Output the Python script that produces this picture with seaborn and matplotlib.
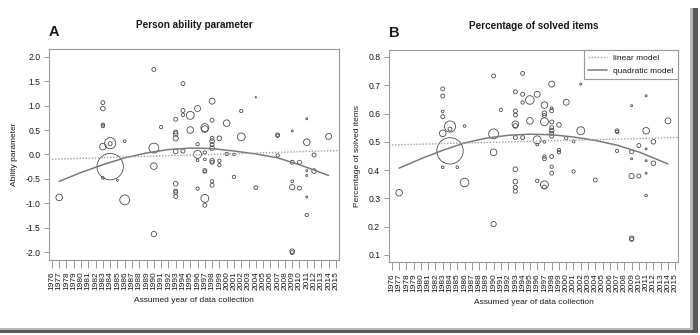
import matplotlib
matplotlib.use("Agg")
import numpy as np
import pandas as pd
import seaborn as sns
import matplotlib.pyplot as plt
from matplotlib.lines import Line2D
from matplotlib.patches import Rectangle

# ---------------- data ----------------
tick_years = list(range(1976, 2016))

# Panel A: person ability parameter (year, value, sample weight)
ability_year = [1977, 1983, 1983, 1983, 1983, 1983, 1983, 1984, 1984, 1984,
                1985, 1986, 1986, 1990, 1990, 1990, 1990, 1991,
                1993, 1993, 1993, 1993, 1993, 1993, 1993, 1993, 1993,
                1994, 1994, 1994, 1994, 1995, 1995,
                1996, 1996, 1996, 1996, 1996,
                1997, 1997, 1997, 1997, 1997, 1997, 1997, 1997,
                1998, 1998, 1998, 1998, 1998, 1998, 1998, 1998, 1998, 1998,
                1999, 1999, 1999, 2000, 2000, 2001, 2001, 2002, 2002,
                2004, 2004, 2007, 2007, 2007,
                2009, 2009, 2009, 2009, 2009, 2009, 2010, 2010,
                2011, 2011, 2011, 2011, 2011, 2011, 2012, 2012, 2014]
ability_value = [-0.88, 1.06, 0.94, 0.61, 0.58, 0.16, -0.48, 0.23, 0.22, -0.25,
                 -0.53, 0.27, -0.93, 1.74, 0.13, -0.24, -1.63, 0.56,
                 0.72, 0.46, 0.42, 0.33, 0.06, -0.60, -0.75, -0.78, -0.86,
                 1.45, 0.90, 0.81, 0.07, 0.80, 0.50,
                 0.94, 0.21, 0.00, -0.12, -0.70,
                 0.55, 0.52, 0.04, -0.10, -0.33, -0.35, -0.90, -1.04,
                 1.09, 0.70, 0.33, 0.27, 0.20, 0.13, -0.13, -0.16, -0.55, -0.63,
                 0.33, -0.13, -0.22, 0.64, 0.01, 0.00, -0.46, 0.89, 0.36,
                 1.17, -0.68, 0.40, 0.38, -0.02,
                 0.48, -0.16, -0.55, -0.67, -1.98, -2.01, -0.16, -0.69,
                 0.73, 0.25, -0.33, -0.43, -0.87, -1.24, -0.01, -0.34, 0.37]
ability_n = [100, 36, 49, 25, 25, 100, 16, 289, 36, 1600,
             9, 16, 225, 36, 225, 100, 64, 25,
             36, 36, 49, 64, 49, 49, 36, 36, 36,
             36, 36, 25, 36, 144, 100,
             81, 25, 144, 16, 25,
             144, 100, 25, 16, 36, 25, 144, 36,
             81, 36, 36, 49, 36, 49, 49, 36, 25, 36,
             49, 25, 25, 100, 25, 16, 25, 25, 144,
             4, 36, 36, 25, 25,
             9, 36, 16, 64, 49, 36, 36, 36,
             9, 100, 9, 9, 9, 25, 36, 49, 81]

# Panel B: percentage of solved items (year, value, sample weight)
pct_year = [1977, 1983, 1983, 1983, 1983, 1983, 1983, 1984, 1984, 1984,
            1985, 1986, 1986, 1990, 1990, 1990, 1990, 1991,
            1993, 1993, 1993, 1993, 1993, 1993, 1993, 1993, 1993, 1993,
            1994, 1994, 1994, 1994, 1995, 1995,
            1996, 1996, 1996, 1996,
            1997, 1997, 1997, 1997, 1997, 1997, 1997, 1997, 1997,
            1998, 1998, 1998, 1998, 1998, 1998, 1998, 1998, 1998, 1998, 1998,
            1999, 1999, 1999, 2000, 2000, 2001, 2001, 2002, 2002,
            2004, 2007, 2007, 2007,
            2009, 2009, 2009, 2009, 2009, 2009, 2010, 2010,
            2011, 2011, 2011, 2011, 2011, 2011, 2012, 2012, 2014]
pct_value = [0.320, 0.687, 0.662, 0.607, 0.589, 0.530, 0.410, 0.554, 0.545, 0.468,
             0.410, 0.556, 0.356, 0.733, 0.528, 0.463, 0.209, 0.613,
             0.677, 0.609, 0.595, 0.562, 0.556, 0.515, 0.403, 0.359, 0.339, 0.325,
             0.742, 0.668, 0.639, 0.515, 0.648, 0.574,
             0.668, 0.507, 0.490, 0.362,
             0.630, 0.601, 0.593, 0.571, 0.500, 0.448, 0.440, 0.348, 0.340,
             0.704, 0.619, 0.610, 0.570, 0.550, 0.540, 0.530, 0.520, 0.448, 0.412, 0.389,
             0.560, 0.471, 0.463, 0.640, 0.513, 0.501, 0.395, 0.704, 0.539,
             0.365, 0.539, 0.535, 0.468,
             0.628, 0.465, 0.440, 0.379, 0.159, 0.155, 0.487, 0.379,
             0.663, 0.539, 0.475, 0.433, 0.389, 0.310, 0.500, 0.424, 0.574]
pct_n = [100, 36, 36, 16, 36, 100, 16, 289, 36, 1600,
         16, 16, 169, 36, 225, 100, 64, 25,
         36, 36, 36, 100, 49, 36, 49, 49, 36, 36,
         36, 36, 25, 36, 169, 100,
         81, 144, 16, 25,
         100, 49, 36, 144, 16, 25, 36, 144, 36,
         81, 16, 36, 36, 36, 49, 36, 36, 36, 25, 36,
         49, 25, 25, 81, 25, 16, 25, 9, 144,
         36, 36, 25, 25,
         9, 36, 9, 64, 49, 36, 36, 36,
         9, 100, 9, 9, 9, 16, 49, 49, 81]

# fitted model curves
quad_years = [1977, 1980, 1983, 1986, 1989, 1992, 1995, 1998, 2001, 2004, 2007, 2010, 2014]
ability_quad = [-0.55, -0.37, -0.21, -0.07, 0.03, 0.10, 0.13, 0.12, 0.07, 0.01, -0.07, -0.21, -0.43]
pct_quad = [0.407, 0.440, 0.470, 0.496, 0.513, 0.523, 0.527, 0.525, 0.517, 0.505, 0.488, 0.464, 0.422]
linear_years = [1976, 2015]
ability_linear = [-0.098, 0.079]
pct_linear = [0.489, 0.515]

# ---------------- style ----------------
sns.set_style("white")
plt.rcParams['font.family'] = ['Liberation Sans', 'DejaVu Sans']
plt.rcParams['axes.unicode_minus'] = False

GRID = "#9a9a9a"
TXT = "#1a1a1a"
PT_EDGE = "#4d4d4d"
LINE = "#7a7a7a"
DOT = "#a0a0a0"
DOTSTYLE = (0, (1, 1.2))

fig = plt.figure(figsize=(7.0, 3.35), dpi=100)
axA = fig.add_axes([0.070, 0.224, 0.414, 0.630])
axB = fig.add_axes([0.5557, 0.218, 0.413, 0.633])

dfA = pd.DataFrame({"year": ability_year, "value": ability_value, "n": ability_n})
dfB = pd.DataFrame({"year": pct_year, "value": pct_value, "n": pct_n})
quadA = pd.DataFrame({"year": quad_years, "value": ability_quad})
quadB = pd.DataFrame({"year": quad_years, "value": pct_quad})


def draw(ax, df, quad, lin, ylim, yticks, ylabel, title, letter):
    sns.scatterplot(data=df, x="year", y="value", size="n", sizes=(0, 360),
                    size_norm=(0, 1600), facecolor="none", edgecolor=PT_EDGE,
                    linewidth=0.6, legend=False, ax=ax, zorder=3)
    sns.lineplot(data=quad, x="year", y="value", color=LINE, linewidth=1.1,
                 ax=ax, zorder=4)
    ax.axline((linear_years[0], lin[0]), (linear_years[1], lin[1]),
              color=DOT, linewidth=1.0, linestyle=DOTSTYLE, zorder=4)
    ax.set_xlim(1975.6, 2015.4)
    ax.set_ylim(*ylim)
    ax.set_xticks(tick_years)
    ax.set_xticklabels([str(y) for y in tick_years], rotation=90, fontsize=6.0, color=TXT)
    ax.set_yticks(yticks)
    ax.set_yticklabels([f"{v:.1f}" for v in yticks], fontsize=6.2, color=TXT)
    ax.tick_params(axis="x", direction="out", length=5.5, width=0.7, color=GRID,
                   pad=2.5, bottom=True)
    ax.tick_params(axis="y", direction="out", length=3.8, width=0.7, color=GRID,
                   pad=2.5, left=True)
    for sp in ax.spines.values():
        sp.set_color(GRID)
        sp.set_linewidth(0.8)
        sp.set_visible(True)
    ax.set_xlabel("Assumed year of data collection", fontsize=6.0, color=TXT, labelpad=5)
    ax.set_ylabel(ylabel, fontsize=6.0, color=TXT, labelpad=5)
    ax.set_title(title, fontsize=7.2, fontweight="bold", color=TXT, pad=15)
    ax.text(0.0, 1.048, letter, transform=ax.transAxes, fontsize=10.5,
            fontweight="bold", color=TXT, ha="left", va="bottom")


draw(axA, dfA, quadA, ability_linear, (-2.16, 2.16),
     [-2.0, -1.5, -1.0, -0.5, 0.0, 0.5, 1.0, 1.5, 2.0],
     "Ability parameter", "Person ability parameter", "A")
draw(axB, dfB, quadB, pct_linear, (0.075, 0.825),
     [0.1, 0.2, 0.3, 0.4, 0.5, 0.6, 0.7, 0.8],
     "Percentage of solved items", "Percentage of solved items", "B")

handles = [Line2D([], [], color=DOT, linewidth=1.0, linestyle=DOTSTYLE),
           Line2D([], [], color=LINE, linewidth=1.1)]
leg = axB.legend(handles, ["linear model", "quadratic model"], loc="upper right",
                 borderaxespad=0, fontsize=6.0, frameon=True, fancybox=False,
                 framealpha=1, edgecolor=GRID, handlelength=2.3, borderpad=0.55,
                 labelspacing=0.55, handletextpad=0.7)
leg.get_frame().set_linewidth(0.8)
for t in leg.get_texts():
    t.set_color(TXT)

# screenshot shadow edges
fig.add_artist(Rectangle((0, 0.006), 0.99, 0.010, transform=fig.transFigure,
                         facecolor="#5a5a5a", edgecolor="none"))
fig.add_artist(Rectangle((0.0, 0.016), 0.99, 0.004, transform=fig.transFigure,
                         facecolor="#b8b8b8", edgecolor="none"))
fig.add_artist(Rectangle((0.990, 0.006), 0.007, 0.97, transform=fig.transFigure,
                         facecolor="#5a5a5a", edgecolor="none"))
fig.add_artist(Rectangle((0.986, 0.016), 0.004, 0.96, transform=fig.transFigure,
                         facecolor="#b8b8b8", edgecolor="none"))

fig.savefig("out.png", dpi=100, facecolor="white")
